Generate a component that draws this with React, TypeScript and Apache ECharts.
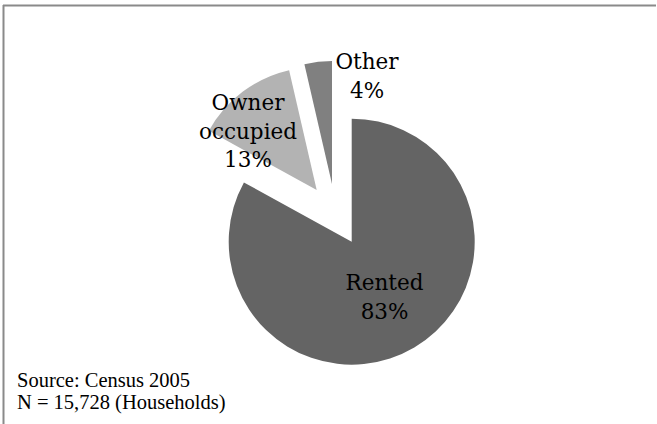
import React, { useEffect, useRef } from "react";
import * as echarts from "echarts";

const categories = ["Rented", "Owner\noccupied", "Other"];
const shares = [83.0, 13.4, 3.6];
const sourceLines = ["Source: Census 2005", "N = 15,728 (Households)"];

const colors = ["#646464", "#b3b3b3", "#808080"];
// pie tip for each slice (Owner and Other are exploded)
const centers: [number, number][] = [
  [351.7, 241.7],
  [316.7, 190],
  [332, 184],
];
const labelPos: ({ x: number; y: number } | null)[] = [
  null,
  { x: 248, y: 131 },
  { x: 367, y: 76 },
];

export default function App() {
  const ref = useRef<HTMLDivElement>(null);
  useEffect(() => {
    if (!ref.current) return;
    const chart = echarts.init(ref.current, undefined, { renderer: "svg" });
    const series = categories.map((_, i) => ({
      type: "pie",
      center: centers[i],
      radius: 123,
      startAngle: 90,
      clockwise: true,
      silent: true,
      percentPrecision: 0,
      avoidLabelOverlap: false,
      labelLine: { show: false },
      emphasis: { disabled: true },
      label: {
        position: "inside",
        formatter: "{b}\n{d}%",
        fontFamily: "DejaVu Serif",
        fontSize: 21.5,
        lineHeight: 28.5,
        color: "#000",
        align: "center",
      },
      labelLayout: labelPos[i]
        ? { x: labelPos[i]!.x, y: labelPos[i]!.y, align: "center", verticalAlign: "middle" }
        : undefined,
      data: categories.map((name, j) => ({
        name,
        value: shares[j],
        itemStyle: { color: j === i ? colors[j] : "rgba(0,0,0,0)" },
        label: { show: j === i },
      })),
    }));
    chart.setOption({
      animation: false,
      backgroundColor: "#fff",
      series,
      graphic: [
        { type: "line", shape: { x1: 3, y1: 5.5, x2: 656, y2: 5.5 }, style: { stroke: "#8a8a8a", lineWidth: 2 } },
        { type: "line", shape: { x1: 3.5, y1: 5, x2: 3.5, y2: 424 }, style: { stroke: "#8a8a8a", lineWidth: 2 } },
        ...sourceLines.map((t, k) => ({
          type: "text",
          left: 17,
          top: 369 + k * 22,
          style: { text: t, fontFamily: "Liberation Serif", fontSize: 20.5, fill: "#000" },
        })),
      ],
    } as any);
    return () => chart.dispose();
  }, []);
  return (
    <div
      ref={ref}
      style={{ position: "fixed", left: 0, top: 0, width: 657, height: 424, background: "#fff" }}
    />
  );
}
